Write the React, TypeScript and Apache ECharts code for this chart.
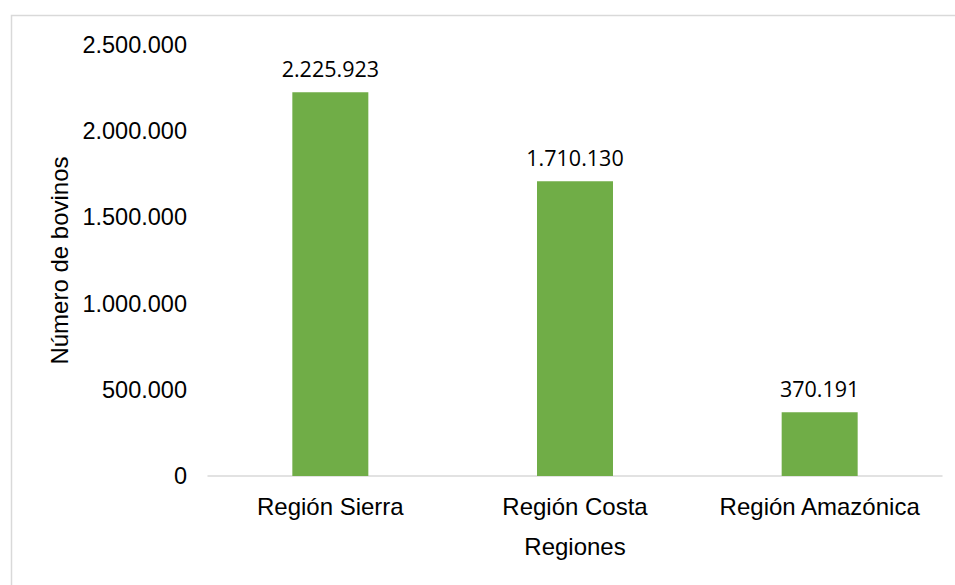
import React, { useEffect, useRef } from "react";
import * as echarts from "echarts";

const categories = ["Región Sierra", "Región Costa", "Región Amazónica"];
const values = [2225923, 1710130, 370191];
const yTicks = [0, 500000, 1000000, 1500000, 2000000, 2500000];

const fmt = (v: number) => String(Math.round(v)).replace(/\B(?=(\d{3})+(?!\d))/g, ".");
const FONT = "Liberation Sans, Arial, sans-serif";

export default function App() {
  const ref = useRef<HTMLDivElement>(null);
  useEffect(() => {
    if (!ref.current) return;
    const chart = echarts.init(ref.current, undefined, { renderer: "svg" });
    chart.setOption({
      animation: false,
      backgroundColor: "#ffffff",
      graphic: [
        {
          type: "rect",
          shape: { x: 11.5, y: 15.5, width: 960, height: 600 },
          style: { fill: "none", stroke: "#d9d9d9", lineWidth: 1.5 },
          silent: true,
        },
      ],
      grid: { left: 208, right: 13, top: 45, bottom: 109, containLabel: false },
      xAxis: {
        type: "category",
        data: categories,
        axisLine: { show: true, lineStyle: { color: "#d9d9d9", width: 1.5 } },
        axisTick: { show: false },
        axisLabel: {
          color: "#000",
          fontFamily: FONT,
          fontSize: 24,
          margin: 18,
          interval: 0,
          hideOverlap: false,
        },
        name: "Regiones",
        nameLocation: "middle",
        nameGap: 58,
        nameTextStyle: {
          color: "#000",
          fontFamily: FONT,
          fontSize: 24,
        },
      },
      yAxis: {
        type: "value",
        min: yTicks[0],
        max: yTicks[yTicks.length - 1],
        interval: 500000,
        axisLine: { show: false },
        axisTick: { show: false },
        splitLine: { show: false },
        axisLabel: {
          color: "#000",
          fontFamily: FONT,
          fontSize: 23.5,
          margin: 21,
          formatter: (v: number) => fmt(v),
        },
        name: "Número de bovinos",
        nameLocation: "middle",
        nameGap: 134,
        nameRotate: 90,
        nameTextStyle: {
          color: "#000",
          fontFamily: FONT,
          fontSize: 24,
        },
      },
      series: [
        {
          type: "bar",
          data: values,
          barWidth: 76,
          itemStyle: { color: "#70ad47" },
          label: {
            show: true,
            position: "top",
            distance: 13,
            color: "#000",
            fontFamily: "Open Sans, Noto Sans, sans-serif",
            fontSize: 21.5,
            formatter: (p: any) => fmt(p.value),
          },
        },
      ],
    });
    return () => chart.dispose();
  }, []);
  return (
    <div
      ref={ref}
      style={{ position: "absolute", left: 0, top: 0, width: 955, height: 585 }}
    />
  );
}
